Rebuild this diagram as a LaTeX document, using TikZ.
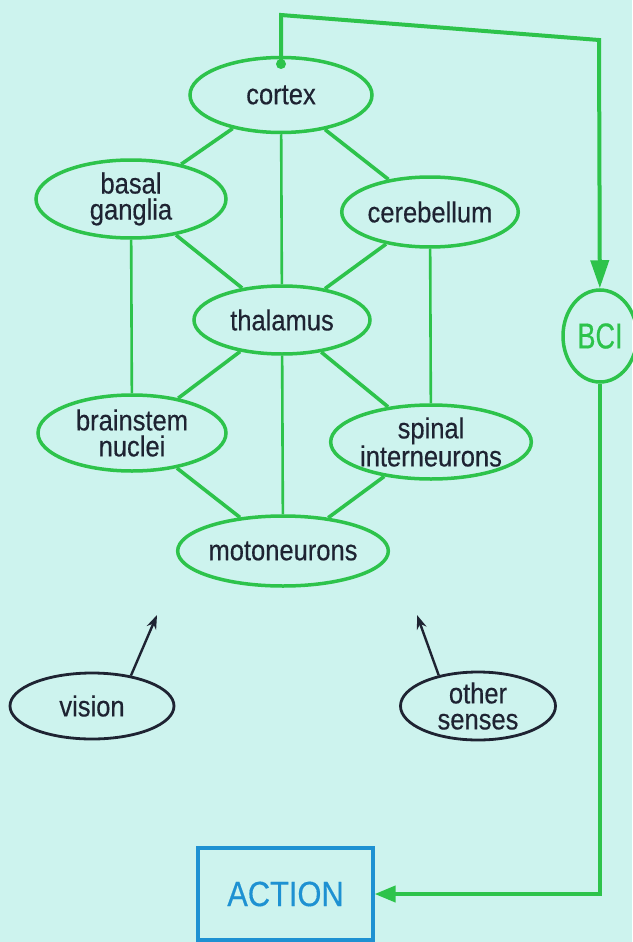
\documentclass[tikz,border=0pt]{standalone}
\usepackage{fontspec}
\setmainfont{Liberation Sans}[FakeStretch=0.88,FakeBold=0.4]
\newfontfamily\bcifont{Liberation Sans}[FakeStretch=0.75,FakeBold=0.4]
\usetikzlibrary{shapes.geometric,arrows.meta}
\definecolor{bgc}{RGB}{205,243,238}
\definecolor{gr}{RGB}{45,195,75}
\definecolor{tx}{RGB}{30,35,50}
\definecolor{bl}{RGB}{30,145,210}
\tikzset{
  area/.style={ellipse,draw=gr,line width=3.5pt,inner sep=0pt,text=tx,align=center,
    font=\fontsize{29pt}{26pt}\selectfont},
  sense/.style={ellipse,draw=tx,line width=2.8pt,inner sep=0pt,text=tx,align=center,
    font=\fontsize{29pt}{26pt}\selectfont},
  link/.style={draw=gr,line width=3.6pt},
  vlink/.style={draw=gr,line width=2.6pt},
  flow/.style={draw=gr,line width=4pt},
  inarrow/.style={draw=tx,line width=2.4pt,-{Stealth[length=14pt,width=10pt]}}
}
\begin{document}
\begin{tikzpicture}[x=1pt,y=-1pt]
\useasboundingbox (0,0) rectangle (632,942);
\fill[bgc] (0,0) rectangle (632,942);

% brain areas
\node[area,minimum width=182pt,minimum height=75pt] (cortex) at (281,95) {cortex};
\node[area,minimum width=190pt,minimum height=78pt] (basal) at (131,199) {basal\\ganglia};
\node[area,minimum width=175pt,minimum height=70pt] (cereb) at (430,212) {cerebellum};
\node[area,minimum width=176pt,minimum height=68pt] (thal) at (282,320) {thalamus};
\node[area,minimum width=188pt,minimum height=76pt] (brain) at (132,433) {brainstem\\nuclei};
\node[area,minimum width=177pt,minimum height=74pt] (spinal) at (431,442) {spinal\\interneurons};
\node[area,minimum width=178pt,minimum height=70pt] (moto) at (283,551) {motoneurons};

% BCI
\node[ellipse,draw=gr,line width=3.5pt,inner sep=0pt,minimum width=74pt,minimum height=92pt,
  text=gr,font=\bcifont\fontsize{36pt}{36pt}\selectfont] (bci) at (600,336) {BCI};

% senses
\node[sense,minimum width=164pt,minimum height=66pt] (vision) at (92,706) {vision};
\node[sense,minimum width=155pt,minimum height=68pt] (other) at (478,706) {other\\senses};

% action
\node[draw=bl,line width=3.2pt,text=bl,minimum width=175pt,minimum height=92pt,inner sep=0pt,
  font=\fontsize{35pt}{35pt}\selectfont] (action) at (285.5,894) {ACTION};

% connections among areas
\draw[link] (cortex) -- (basal);
\draw[link] (cortex) -- (cereb);
\draw[vlink] (cortex) -- (thal);
\draw[link] (basal) -- (thal);
\draw[link] (cereb) -- (thal);
\draw[vlink] (basal) -- (brain);
\draw[vlink] (cereb) -- (spinal);
\draw[link] (thal) -- (brain);
\draw[link] (thal) -- (spinal);
\draw[vlink] (thal) -- (moto);
\draw[link] (brain) -- (moto);
\draw[link] (spinal) -- (moto);

% BCI loop
\coordinate (dot) at (281,64);
\coordinate (c1) at (281,15);
\coordinate (c2) at (599,40);
\fill[gr] (dot) circle (5pt);
\draw[flow,-{Triangle[length=28pt,width=18pt]}] (dot) -- (c1) -- (c2) -- (bci);
\draw[flow,-{Triangle[length=21pt,width=16pt]}] (bci) |- (action);

% sensory inputs
\coordinate (vt) at (157,615);
\coordinate (ot) at (417,615);
\draw[inarrow] (vision.38) -- (vt);
\draw[inarrow] (other.142) -- (ot);
\end{tikzpicture}
\end{document}
